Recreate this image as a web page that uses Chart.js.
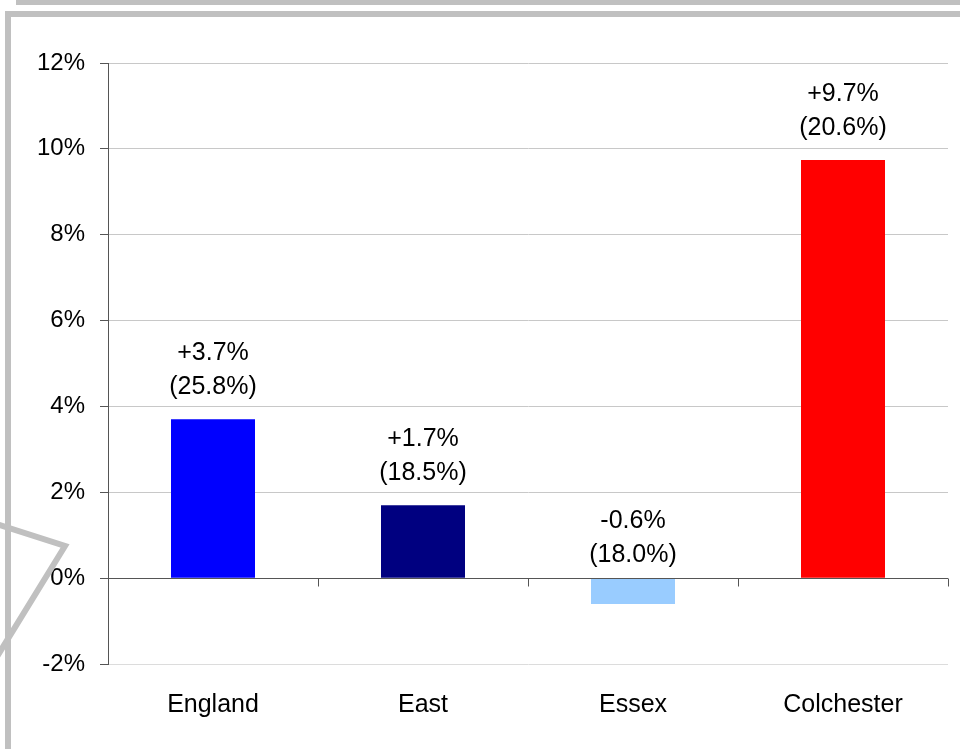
<!DOCTYPE html>
<html>
<head>
<meta charset="utf-8">
<script src="https://cdn.jsdelivr.net/npm/chart.js@4.4.0/dist/chart.umd.min.js"></script>
<style>
    html, body { margin: 0; padding: 0; background: #fff; }
    #wrap { position: relative; width: 960px; height: 749px; }
    #frame { position: absolute; left: 0; top: 0; pointer-events: none; }
</style>
</head>
<body>
<div id="wrap">
    <canvas id="grafico" width="960" height="749"></canvas>
    <svg id="frame" width="960" height="749">
        <rect x="16" y="0" width="944" height="5" fill="#c0c0c0"></rect>
        <rect x="5" y="11" width="955" height="6" fill="#c0c0c0"></rect>
        <rect x="5" y="11" width="6" height="738" fill="#c0c0c0"></rect>
        <polyline points="-10,522 65,546 -10,668" fill="none" stroke="#c0c0c0" stroke-width="6"></polyline>
    </svg>
</div>
<script>
// Datos del gráfico
const zonas = ['England', 'East', 'Essex', 'Colchester'];
const cambio = [3.7, 1.7, -0.6, 9.74];
const etiquetaCambio = ['+3.7%', '+1.7%', '-0.6%', '+9.7%'];
const etiquetaTotal = ['(25.8%)', '(18.5%)', '(18.0%)', '(20.6%)'];
const coloresBarras = ['#0000ff', '#000080', '#99ccff', '#ff0000'];
const ticksY = [-2, 0, 2, 4, 6, 8, 10, 12];

const fuente = '"Liberation Sans", Arial, sans-serif';

// Etiquetas sobre cada barra
const etiquetasPlugin = {
    id: 'etiquetas',
    afterDatasetsDraw(chart) {
        const ctx = chart.ctx;
        const meta = chart.getDatasetMeta(0);
        const y = chart.scales.y;
        ctx.save();
        ctx.font = '25px ' + fuente;
        ctx.fillStyle = '#000';
        ctx.textAlign = 'center';
        ctx.textBaseline = 'middle';
        meta.data.forEach((bar, i) => {
            const v = cambio[i];
            const base = v >= 0 ? y.getPixelForValue(v) - 32 : y.getPixelForValue(0) - 23;
            ctx.fillText(etiquetaTotal[i], bar.x, base);
            ctx.fillText(etiquetaCambio[i], bar.x, base - 34);
        });
        ctx.restore();
    }
};

// Línea del cero con marcas entre categorías
const ejeCeroPlugin = {
    id: 'ejeCero',
    afterDatasetsDraw(chart) {
        const ctx = chart.ctx;
        const area = chart.chartArea;
        const y0 = Math.round(chart.scales.y.getPixelForValue(0)) + 0.5;
        const paso = (area.right - area.left) / zonas.length;
        ctx.save();
        ctx.strokeStyle = '#555';
        ctx.lineWidth = 1;
        ctx.beginPath();
        ctx.moveTo(area.left, y0);
        ctx.lineTo(area.right, y0);
        for (let k = 0; k <= zonas.length; k++) {
            const x = Math.round(area.left + paso * k) + 0.5;
            ctx.moveTo(x, y0);
            ctx.lineTo(x, y0 + 8);
        }
        ctx.stroke();
        ctx.restore();
    }
};

new Chart(document.getElementById('grafico'), {
    type: 'bar',
    data: {
        labels: zonas,
        datasets: [{
            data: cambio,
            backgroundColor: coloresBarras,
            borderWidth: 0,
            categoryPercentage: 1,
            barPercentage: 0.4
        }]
    },
    options: {
        responsive: false,
        animation: false,
        layout: { padding: { top: 63, right: 12, left: 0, bottom: 0 } },
        plugins: {
            legend: { display: false },
            tooltip: { enabled: false }
        },
        scales: {
            x: {
                grid: { display: false, drawTicks: false },
                border: { display: false },
                ticks: {
                    color: '#000',
                    padding: 26,
                    font: { family: fuente, size: 25 }
                },
                afterFit(scale) { scale.height = 85; }
            },
            y: {
                min: -2,
                max: 12,
                afterBuildTicks(scale) {
                    scale.ticks = ticksY.map(v => ({ value: v }));
                },
                grid: {
                    color: ctx => ctx.tick && ctx.tick.value === -2 ? '#dcdcdc' : '#c8c8c8',
                    tickColor: '#555',
                    tickLength: 8
                },
                border: { color: '#555', width: 1 },
                ticks: {
                    color: '#000',
                    padding: 15,
                    font: { family: fuente, size: 24 },
                    callback: v => v + '%'
                },
                afterFit(scale) { scale.width = 108; }
            }
        }
    },
    plugins: [ejeCeroPlugin, etiquetasPlugin]
});
</script>
</body>
</html>
